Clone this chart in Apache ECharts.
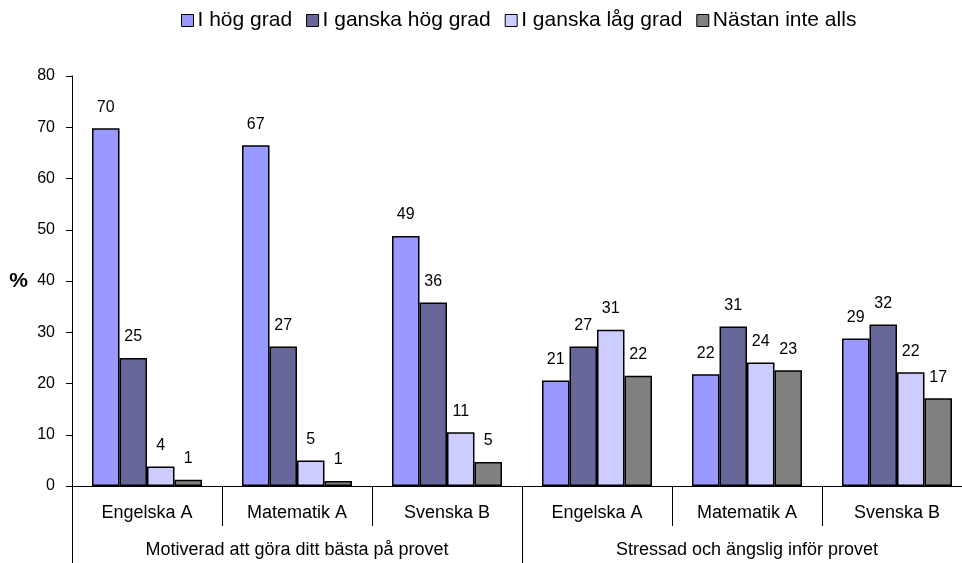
<!DOCTYPE html>
<html>
<head>
<meta charset="utf-8">
<script src="https://cdn.jsdelivr.net/npm/echarts@6/dist/echarts.min.js"></script>
<style>html,body{margin:0;padding:0;background:#fff}#c{width:962px;height:563px}</style>
</head>
<body>
<div id="c"></div>
<script>
var subjects = ['Engelska A', 'Matematik A', 'Svenska B', 'Engelska A', 'Matematik A', 'Svenska B'];
var groups = ['Motiverad att göra ditt bästa på provet', 'Stressad och ängslig inför provet'];
var seriesNames = ['I hög grad', 'I ganska hög grad', 'I ganska låg grad', 'Nästan inte alls'];
var iHogGrad = [69.8, 66.5, 48.8, 20.6, 21.8, 28.8];
var iGanskaHogGrad = [25.0, 27.2, 35.8, 27.2, 31.1, 31.5];
var iGanskaLagGrad = [3.8, 5.0, 10.5, 30.5, 24.1, 22.2];
var nastanInteAlls = [1.2, 1.0, 4.7, 21.5, 22.6, 17.1];
var colors = ['#9999FF', '#666699', '#CCCCFF', '#808080'];

var FONT = 'Liberation Sans, Arial, sans-serif';
var chart = echarts.init(document.getElementById('c'), null, {renderer: 'canvas'});
var allData = [iHogGrad, iGanskaHogGrad, iGanskaLagGrad, nastanInteAlls];
var series = seriesNames.map(function (name, i) {
  return {
    name: name,
    type: 'bar',
    data: allData[i],
    barGap: '0%',
    barCategoryGap: '26.7%',
    itemStyle: {color: colors[i], borderColor: '#000', borderWidth: 1.5},
    label: {
      show: true, position: 'top', distance: 13,
      color: '#000', fontSize: 16, fontFamily: FONT,
      formatter: function (p) { return Math.round(p.value); }
    },
    emphasis: {disabled: true}
  };
});

chart.setOption({
  animation: false,
  textStyle: {fontFamily: FONT},
  legend: {
    data: seriesNames,
    top: 5, left: 176,
    itemWidth: 12, itemHeight: 12, itemGap: 14,
    icon: 'rect',
    itemStyle: {borderColor: '#000', borderWidth: 1},
    textStyle: {fontSize: 21, color: '#000', fontFamily: FONT, padding: [0, 0, 0, -1]}
  },
  grid: {left: 72, top: 76, right: -10, bottom: 77, containLabel: false, outerBoundsMode: 'none'},
  xAxis: [
    {
      type: 'category', data: subjects, position: 'bottom',
      axisLine: {lineStyle: {color: '#000', width: 1}},
      axisTick: {show: true, length: 40, interval: 0, alignWithLabel: false, lineStyle: {color: '#000'}},
      axisLabel: {interval: 0, margin: 18, fontSize: 18, color: '#000', fontFamily: FONT}
    },
    {
      type: 'category', data: groups, position: 'bottom',
      axisLine: {show: false},
      axisTick: {show: true, length: 80, interval: 0, alignWithLabel: false, lineStyle: {color: '#000'}},
      axisLabel: {interval: 0, margin: 55, fontSize: 18, color: '#000', fontFamily: FONT}
    }
  ],
  yAxis: {
    type: 'value', min: 0, max: 80, interval: 10,
    name: '%', nameLocation: 'middle', nameRotate: 0, nameGap: 44,
    nameTextStyle: {fontSize: 21, fontWeight: 'bold', color: '#000', fontFamily: FONT},
    axisLine: {show: true, lineStyle: {color: '#000', width: 1}},
    axisTick: {show: true, length: 6, inside: false, lineStyle: {color: '#000'}},
    axisLabel: {margin: 17, fontSize: 16, color: '#000', fontFamily: FONT},
    splitLine: {show: false}
  },
  series: series
});
</script>
</body>
</html>
